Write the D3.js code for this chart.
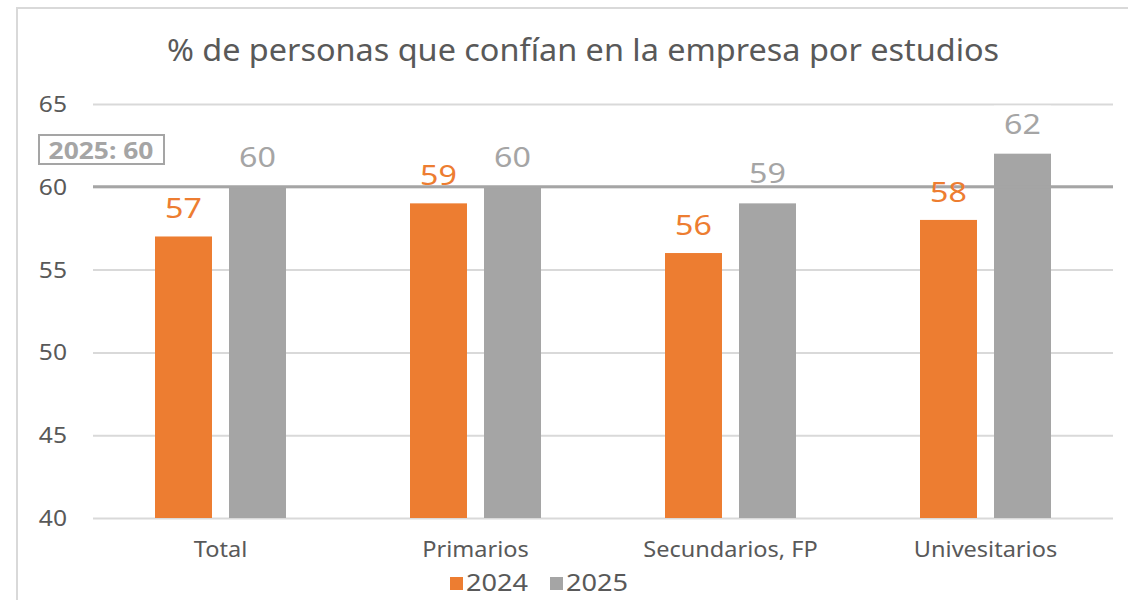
<!DOCTYPE html>
<html>
<head>
<meta charset="utf-8">
<script src="https://cdn.jsdelivr.net/npm/d3@7"></script>
<style>
  html, body { margin: 0; padding: 0; background: #fff; }
  svg { display: block; font-family: "Noto Sans", "Open Sans", sans-serif; }
</style>
</head>
<body>
<svg id="chart" width="1128" height="600"></svg>
<script>
// ── Data ──
const categories = ['Total', 'Primarios', 'Secundarios, FP', 'Univesitarios'];
const series = ['2024', '2025'];
const values2024 = [57, 59, 56, 58];
const values2025 = [60, 60, 59, 62];
const yTicks = [40, 45, 50, 55, 60, 65];
const refValue = 60;
const refLabel = '2025: 60';

const colors = { '2024': '#ed7d31', '2025': '#a5a5a5' };
const textColor = '#595959';

const svg = d3.select('#chart');

// text in the original is a bit wider than Noto Sans: stretch horizontally
function placeText(sel, fx, fy, sx) {
  sel.attr('transform', function(d, i) {
    return 'translate(' + fx(d, i) + ',' + fy(d, i) + ') scale(' + sx + ',1)';
  });
  return sel;
}

// chart area border
svg.append('rect')
  .attr('x', 17).attr('y', 8).attr('width', 1120).attr('height', 600)
  .attr('fill', '#fff').attr('stroke', '#d9d9d9').attr('stroke-width', 2);

const plot = { left: 93, right: 1113, top: 104, bottom: 518 };

const x = d3.scaleBand().domain(categories).range([plot.left, plot.right]);
const inner = d3.scaleBand().domain(series).range([0, 131]).paddingInner(0.23);
const y = d3.scaleLinear().domain([40, 65]).range([plot.bottom, plot.top]);

// ── Title ──
placeText(svg.append('text'), function() { return 583; }, function() { return 61; }, 1.08)
  .attr('text-anchor', 'middle')
  .attr('fill', textColor)
  .style('font-size', '30px')
  .text('% de personas que confían en la empresa por estudios');

// ── Gridlines + y axis ──
const yAxis = d3.axisLeft(y).tickValues(yTicks).tickSize(-(plot.right - plot.left)).tickFormat(function() { return ''; });
const gy = svg.append('g').attr('transform', 'translate(' + plot.left + ',0)').call(yAxis);
gy.select('.domain').remove();
gy.selectAll('.tick line').attr('stroke', '#d9d9d9').attr('stroke-width', 2);

placeText(svg.append('g').selectAll('text').data(yTicks).join('text'),
    function() { return 67; }, function(d) { return y(d) + 8; }, 1.12)
  .attr('text-anchor', 'end')
  .attr('fill', textColor)
  .style('font-size', '22px')
  .text(function(d) { return d; });

// ── Bars ──
const data = [];
categories.forEach(function(c, i) {
  data.push({ cat: c, s: '2024', v: values2024[i] });
  data.push({ cat: c, s: '2025', v: values2025[i] });
});
const groupOffset = (x.bandwidth() - 131) / 2;

function barX(d) { return x(d.cat) + groupOffset + inner(d.s); }

svg.append('g').selectAll('rect').data(data).join('rect')
  .attr('x', barX)
  .attr('y', function(d) { return y(d.v); })
  .attr('width', inner.bandwidth())
  .attr('height', function(d) { return y(40) - y(d.v); })
  .attr('fill', function(d) { return colors[d.s]; });

// white backing for 2025 labels (cuts gridlines like the original)
svg.append('g').selectAll('rect').data(data.filter(function(d) { return d.s === '2025'; })).join('rect')
  .attr('x', barX)
  .attr('y', function(d) { return y(d.v) - 48; })
  .attr('width', inner.bandwidth())
  .attr('height', 33)
  .attr('fill', '#fff');

// ── Reference line ──
svg.append('line')
  .attr('x1', plot.left).attr('x2', plot.right)
  .attr('y1', y(refValue)).attr('y2', y(refValue))
  .attr('stroke', '#a5a5a5').attr('stroke-width', 3);

// ── Value labels ──
placeText(svg.append('g').selectAll('text').data(data).join('text'),
    function(d) { return barX(d) + inner.bandwidth() / 2; },
    function(d) { return y(d.v) - (d.s === '2025' ? 20 : 18); }, 1.15)
  .attr('text-anchor', 'middle')
  .attr('fill', function(d) { return colors[d.s]; })
  .style('font-size', '28px')
  .text(function(d) { return d.v; });

// ── Reference label box ──
svg.append('rect')
  .attr('x', 39).attr('y', 135).attr('width', 125).attr('height', 29)
  .attr('fill', '#fff').attr('stroke', '#a5a5a5').attr('stroke-width', 2);
placeText(svg.append('text'), function() { return 101; }, function() { return 159; }, 1.1)
  .attr('text-anchor', 'middle')
  .attr('fill', '#a5a5a5')
  .style('font-size', '24px').style('font-weight', 'bold')
  .text(refLabel);

// ── X axis labels ──
placeText(svg.append('g').selectAll('text').data(categories).join('text'),
    function(d) { return x(d) + x.bandwidth() / 2; }, function() { return 557; }, 1.07)
  .attr('text-anchor', 'middle')
  .attr('fill', textColor)
  .style('font-size', '22px')
  .text(function(d) { return d; });

// ── Legend ──
const legend = svg.append('g').selectAll('g').data(series).join('g')
  .attr('transform', function(d, i) { return 'translate(' + (450 + i * 100) + ',577)'; });
legend.append('rect').attr('width', 13).attr('height', 13)
  .attr('fill', function(d) { return colors[d]; });
legend.append('text')
  .attr('transform', 'translate(16,14) scale(1.18,1)')
  .attr('fill', textColor).style('font-size', '23px')
  .text(function(d) { return d; });
</script>
</body>
</html>
